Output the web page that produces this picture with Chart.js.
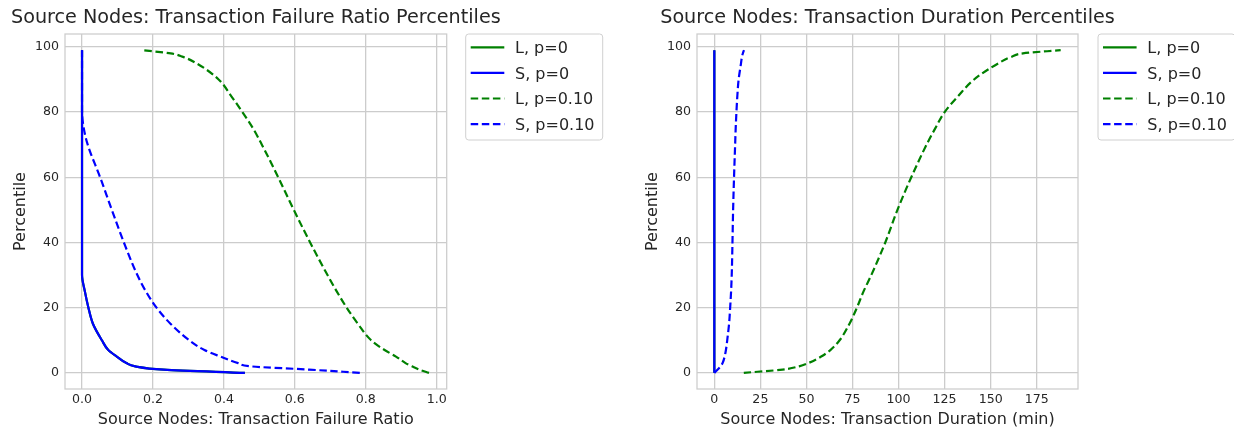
<!DOCTYPE html>
<html>
<head>
<meta charset="utf-8">
<title>Source Nodes percentiles</title>
<script src="https://cdn.jsdelivr.net/npm/chart.js@4/dist/chart.umd.min.js"></script>
<style>
  body { margin: 0; background: #fff; overflow: hidden; }
  canvas { position: absolute; top: 0; }
</style>
</head>
<body>
<canvas id="failChart" width="617" height="431" style="left:0"></canvas>
<canvas id="durChart" width="617" height="431" style="left:617px"></canvas>
<script>
// percentile levels used by every curve (y values)
var pctLevels = [0, 1, 2, 3, 5, 7, 10, 15, 20, 25, 30, 40, 50, 60, 70, 75, 80, 85, 90, 95, 97, 98, 99];
var pctTicks = [0, 20, 40, 60, 80, 100];

var seriesNames = ["L, p=0", "S, p=0", "L, p=0.10", "S, p=0.10"];

// transaction failure ratio at each percentile level
var failLp0  = [0.459, 0.23, 0.15, 0.125, 0.098, 0.074, 0.056, 0.031, 0.018, 0.008, 0, 0, 0, 0, 0, 0, 0, 0, 0, 0, 0, 0, 0];
var failSp0  = [0.459, 0.23, 0.15, 0.125, 0.098, 0.074, 0.056, 0.031, 0.018, 0.008, 0, 0, 0, 0, 0, 0, 0, 0, 0, 0, 0, 0, 0];
var failLp10 = [0.978, 0.95, 0.93, 0.912, 0.885, 0.853, 0.815, 0.778, 0.746, 0.718, 0.692, 0.643, 0.597, 0.553, 0.507, 0.482, 0.452, 0.42, 0.385, 0.322, 0.283, 0.25, 0.168];
var failSp10 = [0.783, 0.64, 0.475, 0.44, 0.39, 0.345, 0.302, 0.25, 0.21, 0.18, 0.156, 0.118, 0.084, 0.051, 0.016, 0.005, 0, 0, 0, 0, 0, 0, 0];
var failTicks = [0, 0.2, 0.4, 0.6, 0.8, 1.0];
var failTickLabels = ["0.0", "0.2", "0.4", "0.6", "0.8", "1.0"];

// transaction duration (min) at each percentile level
var durLp0  = [0, 0, 0, 0, 0, 0, 0, 0, 0, 0, 0, 0, 0, 0, 0, 0, 0, 0, 0, 0, 0, 0, 0];
var durSp0  = [0, 0, 0, 0, 0, 0, 0, 0, 0, 0, 0, 0, 0, 0, 0, 0, 0, 0, 0, 0, 0, 0, 0];
var durLp10 = [16, 37, 46, 51, 58, 63, 68, 73.3, 77.4, 81, 85.2, 92.8, 99.4, 106.9, 115.2, 119.9, 125, 132.5, 141, 154.3, 161.5, 167.5, 188];
var durSp10 = [0, 1.8, 3.4, 4.5, 5.6, 6.3, 7.0, 8.0, 8.6, 9.1, 9.45, 9.85, 10.2, 10.7, 11.3, 11.6, 12.0, 12.5, 13.2, 14.5, 15.0, 15.5, 16.1];
var durTicks = [0, 25, 50, 75, 100, 125, 150, 175];
var durTickLabels = ["0", "25", "50", "75", "100", "125", "150", "175"];

var textColor = "#262626";
var gridColor = "#cccccc";
Chart.defaults.font.family = "'DejaVu Sans', sans-serif";

function makeDataset(label, values, color, dashed, order) {
    return {
        label: label,
        data: pctLevels.map(function (p, i) { return { x: values[i], y: p }; }),
        borderColor: color,
        borderWidth: 2.2,
        borderDash: dashed ? [7.5, 3.6] : [],
        pointRadius: 0,
        fill: false,
        cubicInterpolationMode: "monotone",
        order: order
    };
}

// light box around the plot area
var framePlugin = {
    id: "frame",
    beforeDatasetsDraw: function (chart) {
        var a = chart.chartArea, ctx = chart.ctx;
        ctx.save();
        ctx.strokeStyle = gridColor;
        ctx.lineWidth = 1.25;
        ctx.strokeRect(a.left, a.top, a.right - a.left, a.bottom - a.top);
        ctx.restore();
    }
};

// title centred over the plot area; it is wider than the plot, so it is
// drawn here instead of by the title plugin (which would squeeze it)
var plotTitle = {
    id: "plotTitle",
    afterDraw: function (chart) {
        var a = chart.chartArea, ctx = chart.ctx;
        ctx.save();
        ctx.fillStyle = textColor;
        ctx.font = "19.2px 'DejaVu Sans'";
        ctx.textAlign = "center";
        ctx.textBaseline = "middle";
        ctx.fillText(chart.options.plugins.plotTitle.text, (a.left + a.right) / 2, 18.5);
        ctx.restore();
    }
};

// legend sitting outside the plot, top-right, with a rounded frame
var boxLegend = {
    id: "boxLegend",
    afterDraw: function (chart) {
        var ctx = chart.ctx;
        var x0 = chart.chartArea.right + chart.options.plugins.boxLegend.gap;
        var y0 = chart.chartArea.top;
        var w = 137, h = 106, r = 3;
        ctx.save();
        ctx.beginPath();
        ctx.moveTo(x0 + r, y0);
        ctx.lineTo(x0 + w - r, y0);
        ctx.arcTo(x0 + w, y0, x0 + w, y0 + r, r);
        ctx.lineTo(x0 + w, y0 + h - r);
        ctx.arcTo(x0 + w, y0 + h, x0 + w - r, y0 + h, r);
        ctx.lineTo(x0 + r, y0 + h);
        ctx.arcTo(x0, y0 + h, x0, y0 + h - r, r);
        ctx.lineTo(x0, y0 + r);
        ctx.arcTo(x0, y0, x0 + r, y0, r);
        ctx.closePath();
        ctx.fillStyle = "rgba(255,255,255,0.8)";
        ctx.fill();
        ctx.strokeStyle = "#d0d0d0";
        ctx.lineWidth = 1;
        ctx.stroke();

        chart.data.datasets.forEach(function (ds, i) {
            var y = y0 + 13.3 + i * 25.6;
            ctx.strokeStyle = ds.borderColor;
            ctx.lineWidth = ds.borderWidth;
            ctx.setLineDash(ds.borderDash);
            ctx.beginPath();
            ctx.moveTo(x0 + 5, y);
            ctx.lineTo(x0 + 38.6, y);
            ctx.stroke();
            ctx.setLineDash([]);
            ctx.fillStyle = textColor;
            ctx.font = "16px 'DejaVu Sans'";
            ctx.textBaseline = "middle";
            ctx.fillText(ds.label, x0 + 49.3, y + 1.5);
        });
        ctx.restore();
    }
};

function buildChart(canvasId, cfg) {
    return new Chart(document.getElementById(canvasId), {
        type: "line",
        data: {
            datasets: [
                makeDataset(seriesNames[0], cfg.series[0], "#008000", false, 4),
                makeDataset(seriesNames[1], cfg.series[1], "#0000ff", false, 3),
                makeDataset(seriesNames[2], cfg.series[2], "#008000", true, 2),
                makeDataset(seriesNames[3], cfg.series[3], "#0000ff", true, 1)
            ]
        },
        options: {
            responsive: false,
            animation: false,
            indexAxis: "y",
            layout: { padding: { left: 0, top: 34, bottom: 0, right: cfg.padRight } },
            plugins: {
                legend: { display: false },
                tooltip: { enabled: false },
                title: { display: false },
                boxLegend: { gap: cfg.legendGap },
                plotTitle: { text: cfg.title }
            },
            scales: {
                x: {
                    type: "linear",
                    position: "bottom",
                    min: cfg.xMin,
                    max: cfg.xMax,
                    afterBuildTicks: function (s) {
                        s.ticks = cfg.xTicks.map(function (v) { return { value: v }; });
                    },
                    afterFit: function (s) { s.height = 42; },
                    grid: { color: gridColor, lineWidth: 1.3, drawTicks: false },
                    border: { display: false },
                    ticks: {
                        autoSkip: false,
                        maxRotation: 0,
                        padding: 3,
                        color: textColor,
                        font: { size: 12.6 },
                        callback: function (v, i) { return cfg.xLabels[i]; }
                    },
                    title: {
                        display: true,
                        text: cfg.xTitle,
                        color: textColor,
                        font: { size: 16 },
                        padding: { top: 0, bottom: 1.5 }
                    }
                },
                y: {
                    type: "linear",
                    position: "left",
                    min: -4.95,
                    max: 103.95,
                    afterBuildTicks: function (s) {
                        s.ticks = pctTicks.map(function (v) { return { value: v }; });
                    },
                    afterFit: function (s) { s.width = cfg.plotLeft; },
                    grid: { color: gridColor, lineWidth: 1.3, drawTicks: false },
                    border: { display: false },
                    ticks: {
                        padding: 6,
                        color: textColor,
                        font: { size: 12.6 }
                    },
                    title: {
                        display: true,
                        text: "Percentile",
                        color: textColor,
                        font: { size: 16 },
                        padding: { top: cfg.yTitlePad, bottom: 0 }
                    }
                }
            }
        },
        plugins: [framePlugin, plotTitle, boxLegend]
    });
}

buildChart("failChart", {
    title: "Source Nodes: Transaction Failure Ratio Percentiles",
    xTitle: "Source Nodes: Transaction Failure Ratio",
    series: [failLp0, failSp0, failLp10, failSp10],
    xMin: -0.048, xMax: 1.028,
    xTicks: failTicks, xLabels: failTickLabels,
    plotLeft: 65, padRight: 170.3, yTitlePad: 11.1, legendGap: 19
});

buildChart("durChart", {
    title: "Source Nodes: Transaction Duration Percentiles",
    xTitle: "Source Nodes: Transaction Duration (min)",
    series: [durLp0, durSp0, durLp10, durSp10],
    xMin: -9.4, xMax: 197.4,
    xTicks: durTicks, xLabels: durTickLabels,
    plotLeft: 80, padRight: 156, yTitlePad: 25.8, legendGap: 20
});
</script>
</body>
</html>
